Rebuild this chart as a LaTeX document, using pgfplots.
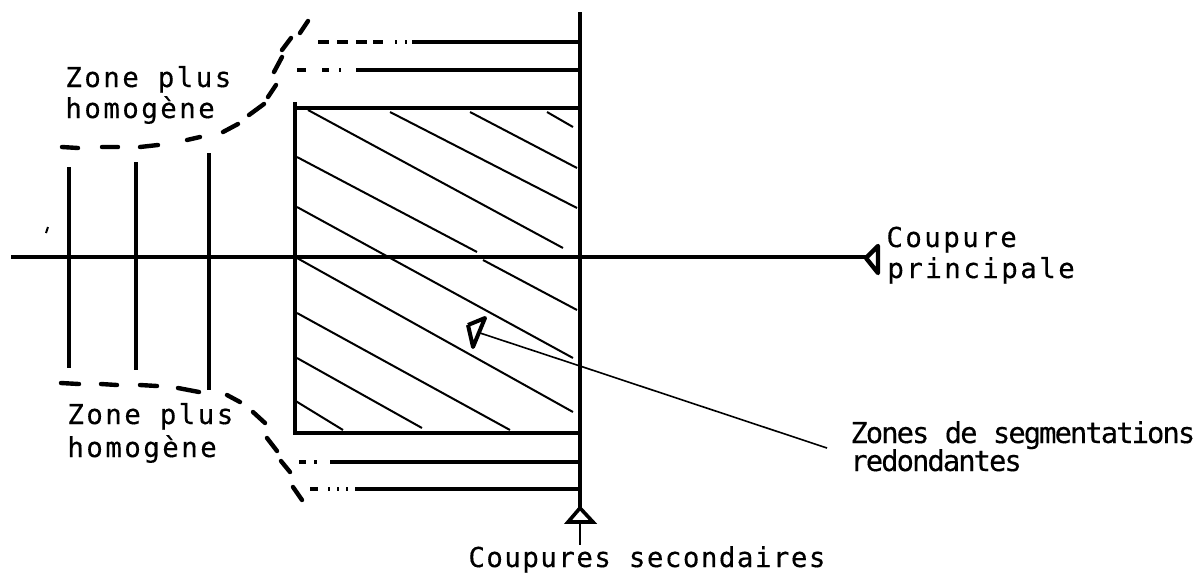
\documentclass[border=0pt]{standalone}
\usepackage{fontspec}
\usepackage{pgfplots}
\pgfplotsset{compat=1.18}
\newfontfamily\fontA{DejaVu Sans Mono}[LetterSpace=9.1,FakeBold=0.4]
\newfontfamily\fontB{DejaVu Sans Mono}[LetterSpace=5.5,FakeBold=0.4]
\newfontfamily\fontC{DejaVu Sans Mono}[LetterSpace=-6.7,FakeBold=0.3]
\newcommand\fA{\fontA\fontsize{13.7pt}{16pt}\selectfont}
\newcommand\fB{\fontB\fontsize{13.7pt}{16pt}\selectfont}
\newcommand\fC{\fontC\fontsize{14.4pt}{16pt}\selectfont}
\begin{document}
\begin{tikzpicture}
\begin{axis}[width=598.5pt,height=287pt,scale only axis,
  xmin=0,xmax=1197,ymin=0,ymax=574,y dir=reverse,hide axis,clip=false,
  unbounded coords=jump]
% main horizontal cut
\addplot[black,line width=2pt] coordinates {(11,257) (866,257)};
\addplot[black,line width=2.2pt,line join=round] coordinates {(866,258) (878,246) (878,273) (866,258)};
% main vertical (secondary cut)
\addplot[black,line width=1.9pt] coordinates {(580,12) (580,508)};
\addplot[black,line width=1.8pt] coordinates {(580,508) (568,522) (593,522) (580,508)};
\addplot[black,line width=1.4pt] coordinates {(580,522) (580,545)};
% rectangle
\addplot[black,line width=2pt] coordinates {(295,102) (295,433) (580,433)};
\addplot[black,line width=2.2pt] coordinates {(295,108) (580,108)};
% hatching
\addplot[black,line width=1pt] coordinates {
(308,110) (563,248) (nan,nan)
(390,112) (577,208) (nan,nan)
(470,112) (577,168) (nan,nan)
(547,112) (573,127) (nan,nan)
(297,157) (477,252) (nan,nan)
(483,260) (577,310) (nan,nan)
(297,207) (573,358) (nan,nan)
(297,258) (573,412) (nan,nan)
(297,313) (510,430) (nan,nan)
(297,358) (422,428) (nan,nan)
(294,400) (343,430)};
% three vertical lines
\addplot[black,line width=1.6pt] coordinates {
(69,167) (69,368) (nan,nan)
(136,162) (136,370) (nan,nan)
(209,153) (209,390)};
% upper horizontal lines with dashes
\addplot[black,line width=1.6pt,dash pattern={on 5.5pt off 4pt on 5.5pt off 4pt on 5.5pt off 3pt on 5pt off 6pt on 1pt off 4pt on 1pt off 2.5pt on 200pt}] coordinates {(318,42) (580,42)};
\addplot[black,line width=1.6pt,dash pattern={on 4.5pt off 8pt on 3.5pt off 5pt on 1pt off 7.5pt on 200pt}] coordinates {(297,70) (580,70)};
% lower horizontal lines with dots
\addplot[black,line width=1.6pt,dash pattern={on 3.5pt off 4pt on 1.5pt off 6.5pt on 200pt}] coordinates {(299,462) (580,462)};
\addplot[black,line width=1.6pt,dash pattern={on 4pt off 5pt on 1pt off 3.5pt on 1pt off 3.5pt on 1pt off 3.5pt on 200pt}] coordinates {(310,489) (580,489)};
% upper dashed curve
\addplot[black,line width=2.2pt,line cap=round] coordinates {
(62,147) (78,148) (nan,nan)
(102,147) (118,147) (nan,nan)
(140,147) (158,145) (nan,nan)
(187,140) (200,137) (nan,nan)
(223,132) (238,124) (nan,nan)
(249,115) (264,104) (nan,nan)
(268,97) (276,85) (nan,nan)
(274,72) (282,57) (nan,nan)
(282,50) (291,38) (nan,nan)
(300,33) (308,21)};
% lower dashed curve
\addplot[black,line width=2.2pt,line cap=round] coordinates {
(61,383) (79,384) (nan,nan)
(101,384) (117,385) (nan,nan)
(140,385) (157,386) (nan,nan)
(178,388) (199,392) (nan,nan)
(227,395) (240,402) (nan,nan)
(253,412) (265,423) (nan,nan)
(267,438) (277,451) (nan,nan)
(281,461) (290,472) (nan,nan)
(293,487) (302,500)};
% stray mark
\addplot[black,line width=1pt] coordinates {(48,227) (46,233)};
% leader line and pointer
\addplot[black,line width=0.8pt] coordinates {(480,333) (580,366) (827,448)};
\addplot[black,line width=2pt,line join=round] coordinates {(468,325) (485,318) (473,347) (468,325)};
% texts
\node[anchor=base west,inner sep=0,font=\fA] at (axis cs:65,87) {Zone plus};
\node[anchor=base west,inner sep=0,font=\fA] at (axis cs:65,118) {homogène};
\node[anchor=base west,inner sep=0,font=\fA] at (axis cs:67,424) {Zone plus};
\node[anchor=base west,inner sep=0,font=\fA] at (axis cs:67,457) {homogène};
\node[anchor=base west,inner sep=0,font=\fA] at (axis cs:886,247) {Coupure};
\node[anchor=base west,inner sep=0,font=\fA] at (axis cs:887,278) {principale};
\node[anchor=base west,inner sep=0,font=\fC] at (axis cs:850,443) {Zones de segmentations};
\node[anchor=base west,inner sep=0,font=\fC] at (axis cs:850,471) {redondantes};
\node[anchor=base west,inner sep=0,font=\fB] at (axis cs:468,567) {Coupures secondaires};
\end{axis}
\pgfresetboundingbox
\path (current axis.south west) rectangle (current axis.north east);
\end{tikzpicture}
\end{document}
